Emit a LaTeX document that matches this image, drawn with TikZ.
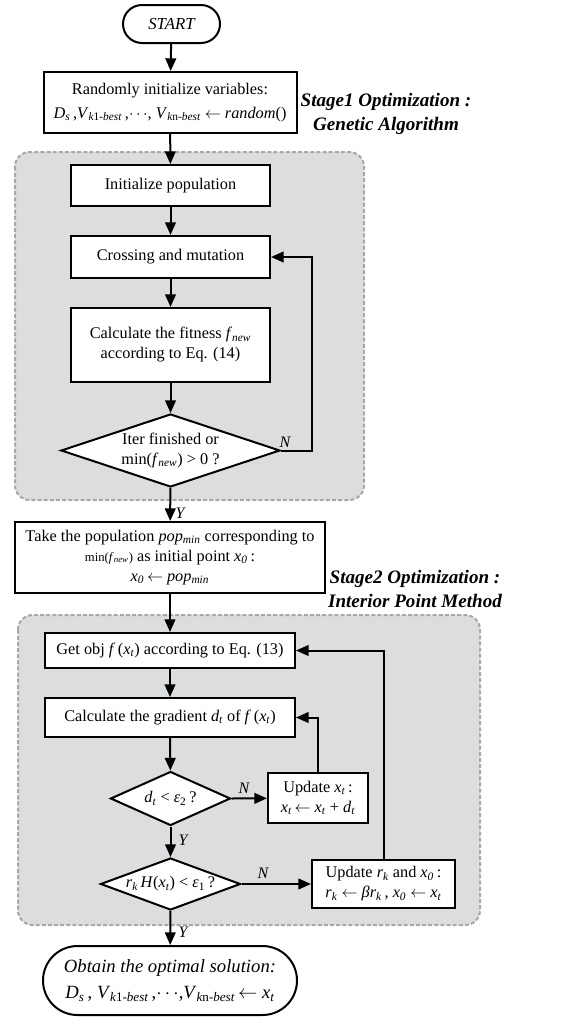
\documentclass[tikz,border=0pt]{standalone}
\usepackage{fontspec}
\setmainfont{Liberation Serif}
\usetikzlibrary{arrows.meta,shapes.geometric,shapes.misc}
\newcommand{\sub}[1]{\textsubscript{\itshape #1}}
\newcommand{\kb}[1]{\textsubscript{\itshape k\upshape #1\itshape -best}}
\definecolor{panelgray}{RGB}{220,221,223}
\definecolor{dashgray}{RGB}{168,168,168}
\tikzset{
  px/.style={x=0.75pt,y=-0.75pt},
  box/.style={draw,line width=1.5pt,fill=white,inner sep=0pt,align=center,font=\fontsize{12.2}{15}\selectfont},
  term/.style={draw,line width=1.5pt,fill=white,rounded rectangle,inner sep=0pt,align=center},
  dec/.style={draw,line width=1.5pt,fill=white,diamond,aspect=3,inner sep=-4pt,align=center,font=\fontsize{12.2}{15}\selectfont},
  panel/.style={draw=dashgray,fill=panelgray,line width=1.5pt,dash pattern=on 3pt off 1.6pt,rounded corners=11pt},
  arr/.style={line width=1.5pt,-{Triangle[length=9.5pt,width=8pt]}},
  lbl/.style={font=\fontsize{12}{14}\selectfont\itshape,inner sep=0pt},
  stage/.style={font=\fontsize{14.3}{18}\selectfont\bfseries\itshape,align=center,inner sep=0pt}
}
\begin{document}
\begin{tikzpicture}[px]
\useasboundingbox (0,0) rectangle (573,1017);
% panels
\draw[panel] (15,152) rectangle (364,500);
\draw[panel] (18,615) rectangle (480,925);
% nodes
\node[term,minimum width=97*0.75pt,minimum height=38*0.75pt,font=\fontsize{12.6}{15}\selectfont\itshape] (start) at (171.5,24) {START};
\node[box,minimum width=253*0.75pt,minimum height=61*0.75pt] (init) at (170,102.5)
  {Randomly initialize variables:\\[3pt] \textit{D}\sub{s}\,,\textit{V}\kb{1}\,,$\cdots$, \textit{V}\kb{n} $\leftarrow$ \textit{random}()};
\node[stage] (st1) at (386,114) {Stage1 Optimization :\\Genetic Algorithm};
\node[box,minimum width=199*0.75pt,minimum height=41*0.75pt] (pop) at (170.5,185.5) {Initialize population};
\node[box,minimum width=199*0.75pt,minimum height=42*0.75pt] (cross) at (170.5,257) {Crossing and mutation};
\node[box,minimum width=199*0.75pt,minimum height=74*0.75pt] (fit) at (170.5,345)
  {Calculate the fitness \textit{f}\sub{new}\\ according to Eq. (14)};
\node[dec,minimum width=219*0.75pt,minimum height=73*0.75pt] (d1) at (170.5,450.5)
  {Iter finished or\\ min(\textit{f}\sub{new}) {\textgreater} 0 ?};
\node[box,minimum width=310*0.75pt,minimum height=71*0.75pt] (take) at (170,557.5)
  {Take the population \textit{pop}\sub{min} corresponding to\\ {\fontsize{9.5}{11}\selectfont min(\textit{f}\sub{new})} as initial point \textit{x}\sub{0}\,:\\ \textit{x}\sub{0}\,$\leftarrow$ \textit{pop}\sub{min}};
\node[stage] (st2) at (415,589) {Stage2 Optimization :\\Interior Point Method};
\node[box,minimum width=250*0.75pt,minimum height=35*0.75pt] (obj) at (170,650.5)
  {Get obj \textit{f}\,(\textit{x}\sub{t}) according to Eq. (13)};
\node[box,minimum width=250*0.75pt,minimum height=39*0.75pt] (grad) at (170,717.5)
  {Calculate the gradient \textit{d}\sub{t} of \textit{f}\,(\textit{x}\sub{t})};
\node[dec,minimum width=120*0.75pt,minimum height=54*0.75pt] (d2) at (170.5,798.5)
  {\textit{d}\sub{t} {\textless} \textit{ε}\textsubscript{2}\,?};
\node[box,minimum width=100*0.75pt,minimum height=50*0.75pt] (upx) at (318,798)
  {Update \textit{x}\sub{t}\,:\\ \textit{x}\sub{t}\,$\leftarrow$ \textit{x}\sub{t} + \textit{d}\sub{t}};
\node[dec,minimum width=140*0.75pt,minimum height=52*0.75pt] (d3) at (170.5,884)
  {\textit{r}\sub{k}\,\textit{H}(\textit{x}\sub{t}) {\textless} \textit{ε}\textsubscript{1}\,?};
\node[box,minimum width=143*0.75pt,minimum height=48*0.75pt] (upr) at (383.5,884)
  {Update \textit{r}\sub{k} and \textit{x}\sub{0}\,:\\ \textit{r}\sub{k} $\leftarrow$ \textit{βr}\sub{k}\,, \textit{x}\sub{0} $\leftarrow$ \textit{x}\sub{t}};
\node[term,minimum width=254*0.75pt,minimum height=69*0.75pt,font=\fontsize{14}{20}\selectfont] (end) at (170,980.5)
  {\textit{Obtain the optimal solution:}\\ \textit{D}\sub{s}\,, \textit{V}\kb{1}\,,$\cdots$,\textit{V}\kb{n}\,$\leftarrow$ \textit{x}\sub{t}};
% connectors
\draw[arr] (start) -- (init);
\draw[arr] (init) -- (pop);
\draw[arr] (pop) -- (cross);
\draw[arr] (cross) -- (fit);
\draw[arr] (fit) -- (d1);
\draw[arr] (d1.east) -- ++(31,0) |- (cross.east);
\node[lbl] (n1) at (285,442) {N};
\draw[arr] (d1) -- (take);
\node[lbl] (y1) at (180,513) {Y};
\draw[arr] (take) -- (obj);
\draw[arr] (obj) -- (grad);
\draw[arr] (grad) -- (d2);
\draw[arr] (d2.east) -- (upx);
\node[lbl] (n2) at (244,788) {N};
\draw[arr] (upx.north) |- (grad.east);
\draw[arr] (d2) -- (d3);
\node[lbl] (y2) at (183,840) {Y};
\draw[arr] (d3.east) -- (upr);
\node[lbl] (n3) at (263,873) {N};
\draw[arr] (upr.north) |- (obj.east);
\draw[arr] (d3) -- (end);
\node[lbl] (y3) at (183,932) {Y};
\end{tikzpicture}
\end{document}
